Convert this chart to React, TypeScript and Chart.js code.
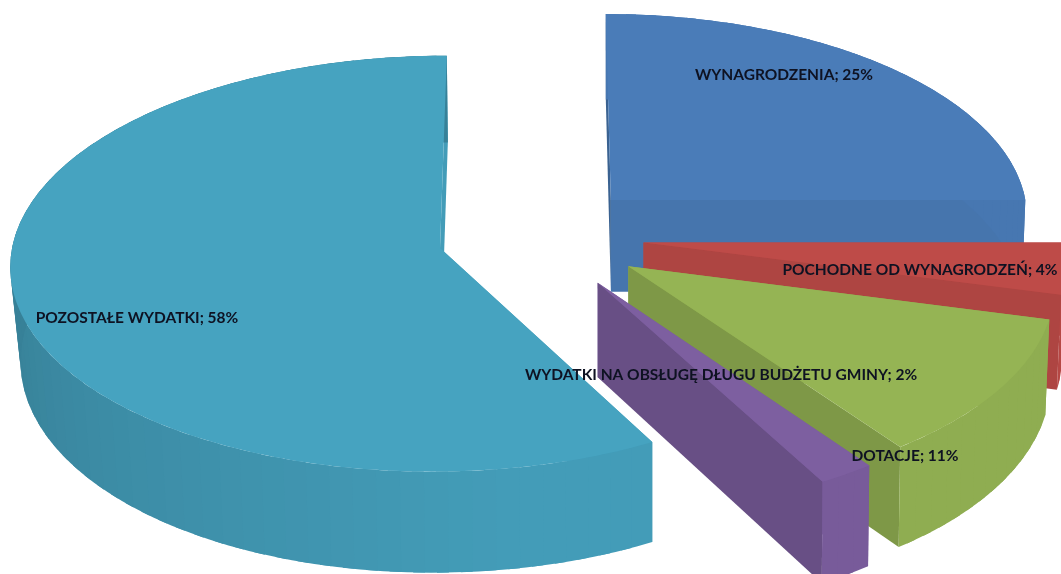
import React, { useEffect, useRef } from "react";
import { Chart, registerables } from "chart.js";

Chart.register(...registerables);

const categories = [
  "WYNAGRODZENIA",
  "POCHODNE OD WYNAGRODZEŃ",
  "DOTACJE",
  "WYDATKI NA OBSŁUGĘ DŁUGU BUDŻETU GMINY",
  "POZOSTAŁE WYDATKI",
];
const shares = [25, 4, 11, 2, 58];
const explosions = [25.2, 25.5, 26, 26.5, 23.4];
const sliceColors = ["#4a7cb8", "#be4b48", "#95b454", "#7d5fa0", "#46a3c0"];
const labelCentres = [
  [784, 75],
  [920, 270],
  [905, 456],
  [721, 375],
  [137, 318],
];

const VIEW = { cx: 537, cy: 236, rx: 420, leftStretch: 1.0144, ry: 205, persp: 0.075, depth: 93, vanishX: 650, shrink: 2.5e-5 };

function shade(hex: string, f: number) {
  const n = parseInt(hex.slice(1), 16);
  const c = [(n >> 16) & 255, (n >> 8) & 255, n & 255].map((v) => Math.round(v * f));
  return `rgb(${c[0]},${c[1]},${c[2]})`;
}

function project(u: number, v: number, low: boolean): [number, number] {
  const s = 1 / (1 - VIEW.persp * v);
  let x = VIEW.cx + VIEW.rx * u * s * (u < 0 ? VIEW.leftStretch : 1);
  let y = VIEW.cy + VIEW.ry * v * s;
  if (low) {
    const d = VIEW.vanishX - x;
    x += Math.sign(d) * d * d * VIEW.shrink;
    y += VIEW.depth * s;
  }
  return [x, y];
}

// brightness of a side wall from the compass direction (degrees) it faces
function wallLight(deg: number) {
  const n = ((deg % 360) + 360) % 360;
  if (n <= 170) return 0.96;
  if (n >= 265) return 0.79;
  return 0.96 - ((n - 170) / 95) * 0.17;
}

function fillPoly(ctx: CanvasRenderingContext2D, pts: [number, number][], color: string) {
  ctx.beginPath();
  pts.forEach((p, i) => (i ? ctx.lineTo(p[0], p[1]) : ctx.moveTo(p[0], p[1])));
  ctx.closePath();
  ctx.fillStyle = color;
  ctx.fill();
}

const pie3d = {
  id: "pie3d",
  beforeDatasetDraw(chart: any) {
    const ctx: CanvasRenderingContext2D = chart.ctx;
    const arcs = chart.getDatasetMeta(0).data;
    arcs.forEach((arc: any) => {
      const start = arc.startAngle;
      const end = arc.endAngle;
      const mid = (start + end) / 2;
      const e = arc.options.offset / 100;
      const color = arc.options.backgroundColor;
      const ox = Math.cos(mid) * e;
      const oy = Math.sin(mid) * e;
      const at = (a: number, low: boolean) => project(ox + Math.cos(a), oy + Math.sin(a), low);
      const apex = (low: boolean) => project(ox, oy, low);
      const compass = (a: number) => ((a + Math.PI / 2) * 180) / Math.PI;

      // radial walls
      fillPoly(ctx, [apex(false), at(start, false), at(start, true), apex(true)], shade(color, wallLight(compass(start) - 90)));
      fillPoly(ctx, [apex(false), at(end, false), at(end, true), apex(true)], shade(color, wallLight(compass(end) + 90)));

      // outer wall in narrow facets, each overlapping the next
      const step = Math.PI / 60;
      const count = Math.max(1, Math.ceil((end - start) / step));
      const inc = (end - start) / count;
      for (let i = 0; i < count; i++) {
        const a0 = start + inc * i;
        const a1 = Math.min(end, a0 + inc * 1.5);
        const pts: [number, number][] = [at(a0, false), at((a0 + a1) / 2, false), at(a1, false), at(a1, true), at((a0 + a1) / 2, true), at(a0, true)];
        fillPoly(ctx, pts, shade(color, wallLight(compass(a0 + inc / 2))));
      }

      // top face
      const top: [number, number][] = [apex(false)];
      for (let i = 0; i <= count * 3; i++) top.push(at(start + (inc * i) / 3, false));
      fillPoly(ctx, top, color);
    });

    ctx.save();
    ctx.font = "bold 15.5px Lato, 'Open Sans', sans-serif";
    ctx.fillStyle = "#0e1222";
    ctx.textAlign = "center";
    ctx.textBaseline = "middle";
    arcs.forEach((_: any, i: number) => {
      ctx.fillText(`${categories[i]}; ${shares[i]}%`, labelCentres[i][0], labelCentres[i][1]);
    });
    ctx.restore();
    return false;
  },
};

export default function App() {
  const ref = useRef<HTMLCanvasElement>(null);
  useEffect(() => {
    document.body.style.margin = "0";
    document.body.style.background = "#fff";
    const chart = new Chart(ref.current as HTMLCanvasElement, {
      type: "pie",
      data: {
        labels: categories,
        datasets: [{ data: shares, backgroundColor: sliceColors, offset: explosions, borderWidth: 0 }],
      },
      options: {
        responsive: false,
        animation: false,
        plugins: { legend: { display: false }, tooltip: { enabled: false } },
      },
      plugins: [pie3d],
    } as any);
    return () => chart.destroy();
  }, []);
  return <canvas ref={ref} width={1061} height={574} style={{ display: "block", filter: "blur(0.4px)" }} />;
}
